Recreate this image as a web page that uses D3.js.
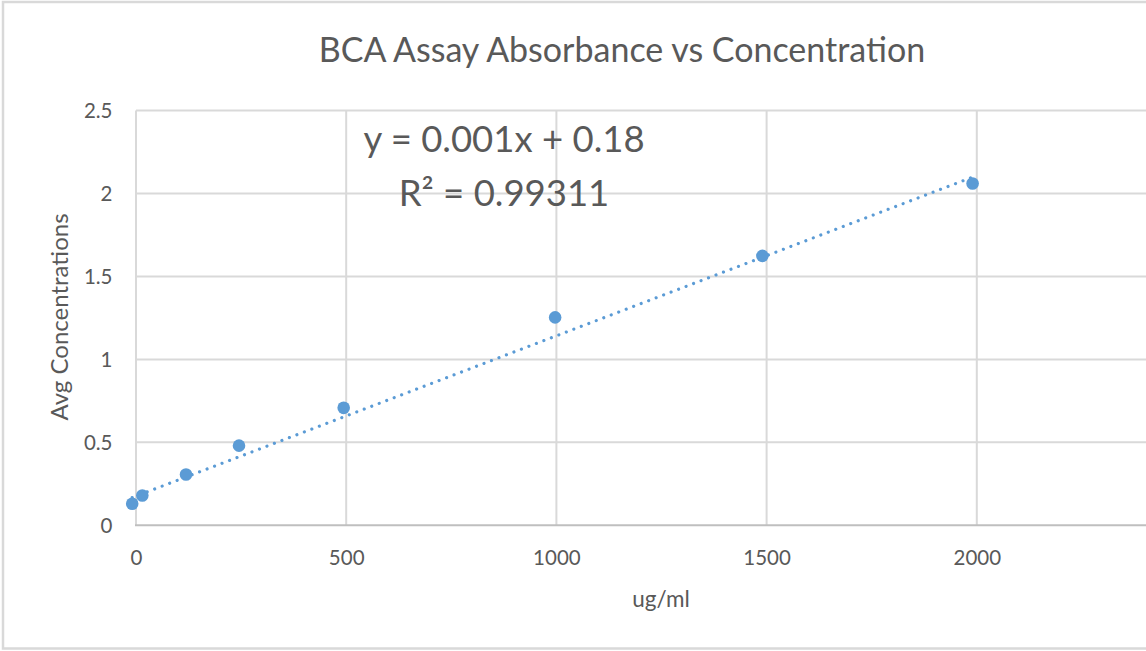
<!DOCTYPE html>
<html>
<head>
<meta charset="utf-8">
<script src="https://cdn.jsdelivr.net/npm/d3@7"></script>
<style>
  html, body { margin: 0; padding: 0; background: #fff; }
  svg { display: block; }
  text { font-family: Lato, "Open Sans", sans-serif; fill: #595959; }
</style>
</head>
<body>
<svg id="chart" width="1146" height="651"></svg>
<script>
// ---- data ----
const concentration = [-9, 15, 119, 245, 494, 997, 1490, 1990];   // ug/ml
const absorbance    = [0.13, 0.18, 0.306, 0.48, 0.708, 1.253, 1.624, 2.06];
// linear trendline as drawn in the reference
const trendSlope = 0.000966;
const trendIntercept = 0.176;
const xTickValues = [0, 500, 1000, 1500, 2000];
const xTickLabels = ["0", "500", "1000", "1500", "2000"];
const xGridValues = [0, 500, 1000, 1500, 2000, 2500];
const yTickValues = [0, 0.5, 1, 1.5, 2, 2.5];
const yTickLabels = ["0", "0.5", "1", "1.5", "2", "2.5"];
const titleText = "BCA Assay Absorbance vs Concentration";
const xTitle = "ug/ml";
const yTitle = "Avg Concentrations";
const equationLines = ["y = 0.001x + 0.18", "R² = 0.99311"];

// ---- layout ----
const plot = { left: 136, top: 110.5, bottom: 525.3, right: 1187 };
const svg = d3.select("#chart");

const x = d3.scaleLinear().domain([0, 2500]).range([plot.left, plot.right]);
const y = d3.scaleLinear().domain([0, 2.5]).range([plot.bottom, plot.top]);

// chart border
svg.append("rect")
  .attr("x", 3).attr("y", 2)
  .attr("width", 1300).attr("height", 646.5)
  .attr("fill", "#fff").attr("stroke", "#d9d9d9").attr("stroke-width", 2.5);

// gridlines
const grid = svg.append("g");
grid.selectAll("line.h").data(yTickValues.filter(v => v > 0)).join("line")
  .attr("x1", plot.left).attr("x2", plot.right)
  .attr("y1", d => y(d)).attr("y2", d => y(d))
  .attr("stroke", "#d9d9d9").attr("stroke-width", 2);
grid.selectAll("line.v").data(xGridValues).join("line")
  .attr("x1", d => x(d)).attr("x2", d => x(d))
  .attr("y1", plot.top).attr("y2", plot.bottom)
  .attr("stroke", "#d9d9d9").attr("stroke-width", 2);

// x axis line
svg.append("line")
  .attr("x1", plot.left - 1).attr("x2", plot.right)
  .attr("y1", y(0)).attr("y2", y(0))
  .attr("stroke", "#bfbfbf").attr("stroke-width", 2);

// axes (labels only)
const xAxis = d3.axisBottom(x).tickValues(xTickValues)
  .tickFormat((d, i) => xTickLabels[i]).tickSize(0).tickPadding(0);
const gx = svg.append("g").attr("transform", `translate(0,${plot.bottom})`).call(xAxis);
gx.select(".domain").remove();
gx.selectAll("text").attr("dy", null).attr("y", 40)
  .style("font-size", "20.5px").style("fill", "#595959");

const yAxis = d3.axisLeft(y).tickValues(yTickValues)
  .tickFormat((d, i) => yTickLabels[i]).tickSize(0).tickPadding(0);
const gy = svg.append("g").attr("transform", `translate(${112.5},0)`).call(yAxis);
gy.select(".domain").remove();
gy.selectAll("text").attr("x", 0).attr("dy", "0.36em")
  .style("font-size", "20.5px").style("fill", "#595959");

// trendline over the data's x extent
const [xmin, xmax] = d3.extent(concentration);
svg.append("path")
  .datum([xmin, xmax])
  .attr("d", d3.line().x(d => x(d)).y(d => y(trendIntercept + trendSlope * d)))
  .attr("fill", "none").attr("stroke", "#5b9bd5")
  .attr("stroke-width", 3.2).attr("stroke-linecap", "round")
  .attr("stroke-dasharray", "0.01 8");

// markers
svg.append("g").selectAll("circle")
  .data(concentration.map((c, i) => [c, absorbance[i]]))
  .join("circle")
  .attr("cx", d => x(d[0])).attr("cy", d => y(d[1]))
  .attr("r", 6.3).attr("fill", "#5b9bd5");

// title
svg.append("text")
  .attr("x", 622).attr("y", 62).attr("text-anchor", "middle")
  .style("font-size", "34px").text(titleText);

// equation label
svg.append("g").selectAll("text").data(equationLines).join("text")
  .attr("x", 504).attr("y", (d, i) => i === 0 ? 152 : 205.5)
  .attr("text-anchor", "middle").style("font-size", "36.5px").text(d => d);

// axis titles
svg.append("text")
  .attr("x", 661).attr("y", 607).attr("text-anchor", "middle")
  .style("font-size", "22.5px").text(xTitle);
svg.append("text")
  .attr("transform", "translate(68,317) rotate(-90)")
  .attr("text-anchor", "middle")
  .style("font-size", "24px").text(yTitle);
</script>
</body>
</html>
